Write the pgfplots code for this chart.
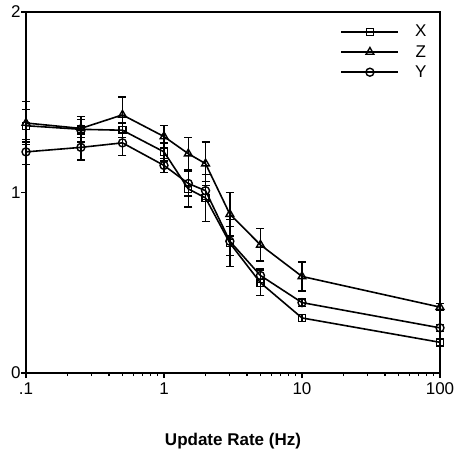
\documentclass[border=0pt]{standalone}
\usepackage{fontspec}
\setmainfont{Liberation Sans}
\usepackage{pgfplots}
\pgfplotsset{compat=1.18}

\begin{document}
\begin{tikzpicture}
\begin{axis}[
    name=main,
    scale only axis,
    width=414pt, height=361pt,
    xmode=log,
    xmin=0.1, xmax=100,
    ymin=0, ymax=2,
    xtick={0.1,1,10,100},
    xticklabels={.1,1,10,100},
    ytick={0,1,2},
    yticklabels={0,1,2},
    tick pos=left,
    tick align=outside,
    major tick length=5pt,
    minor tick length=3pt,
    minor y tick num=0,
    axis line style={line width=1.5pt},
    tick style={line width=1.2pt, black},
    ticklabel style={font=\fontsize{17}{19}\selectfont},
    xticklabel style={yshift=-1pt},
    yticklabel style={xshift=3pt},
    xlabel={\textbf{Update Rate (Hz)}},
    xlabel style={font=\fontsize{17}{19}\selectfont, yshift=-32pt},
    clip=false,
    legend style={draw=none, fill=none, at={(0.98,0.975)}, anchor=north east,
        font=\fontsize{17}{19}\selectfont, row sep=3pt,
        /tikz/every odd column/.append style={column sep=14pt}},
    legend image code/.code={
        \draw[#1, mark repeat=2, mark phase=2] plot coordinates {(0cm,0cm) (1cm,0cm) (2cm,0cm)};},
    every axis plot/.append style={black, line width=1.6pt,
        mark options={solid, fill=white, line width=1.4pt},
        /pgfplots/error bars/y dir=both,
        /pgfplots/error bars/y explicit,
        /pgfplots/error bars/error bar style={line width=1.4pt},
        /pgfplots/error bars/error mark options={rotate=90, mark size=4pt, line width=1.4pt}},
]
\addplot[mark=square, mark size=3.5pt] coordinates {
    (0.1,1.37) +- (0,0.09)
    (0.25,1.35) +- (0,0.07)
    (0.5,1.345) +- (0,0.04)
    (1,1.225) +- (0,0.05)
    (1.5,1.02) +- (0,0.10)
    (2,0.97) +- (0,0.13)
    (3,0.72) +- (0,0.13)
    (5,0.50) +- (0,0.07)
    (10,0.305) +- (0,0.02)
    (100,0.17) +- (0,0.02)
};
\addplot[mark=triangle, mark size=4.5pt] coordinates {
    (0.1,1.385) +- (0,0.12)
    (0.25,1.355) +- (0,0.05)
    (0.5,1.43) +- (0,0.10)
    (1,1.31) +- (0,0.06)
    (1.5,1.215) +- (0,0.09)
    (2,1.16) +- (0,0.12)
    (3,0.88) +- (0,0.12)
    (5,0.71) +- (0,0.09)
    (10,0.535) +- (0,0.08)
    (100,0.365) +- (0,0.02)
};
\addplot[mark=o, mark size=4pt] coordinates {
    (0.1,1.225) +- (0,0.07)
    (0.25,1.25) +- (0,0.07)
    (0.5,1.275) +- (0,0.07)
    (1,1.15) +- (0,0.04)
    (1.5,1.05) +- (0,0.07)
    (2,1.01) +- (0,0.05)
    (3,0.73) +- (0,0.08)
    (5,0.54) +- (0,0.04)
    (10,0.39) +- (0,0.02)
    (100,0.25) +- (0,0.02)
};
\legend{X, Z, Y}
\end{axis}
\pgfresetboundingbox
\path[use as bounding box] (main.south west) ++(-26pt,-79pt) rectangle ++(455pt,452pt);
\end{tikzpicture}
\end{document}
